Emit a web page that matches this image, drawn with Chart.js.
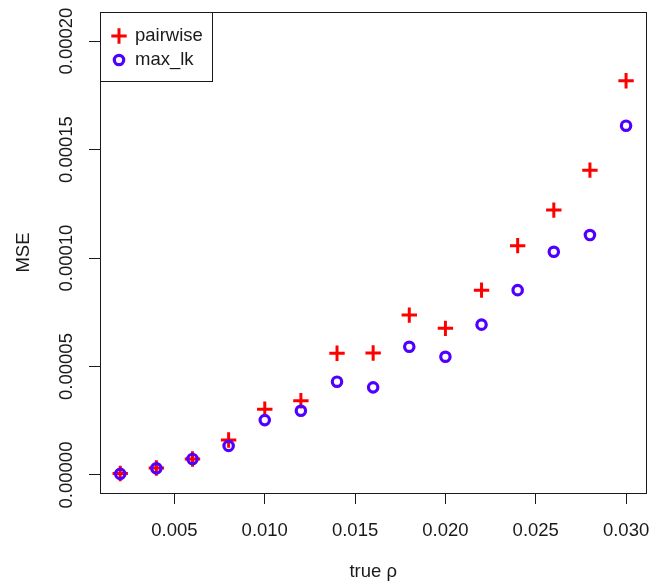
<!DOCTYPE html>
<html>
<head>
<meta charset="utf-8">
<script src="https://cdn.jsdelivr.net/npm/chart.js@4.4.0/dist/chart.umd.min.js"></script>
<style>
  body { margin: 0; background: #fff; }
</style>
</head>
<body>
<canvas id="myChart" width="657" height="586"></canvas>
<script>
// values
const rho = [0.002, 0.004, 0.006, 0.008, 0.010, 0.012, 0.014, 0.016, 0.018, 0.020, 0.022, 0.024, 0.026, 0.028, 0.030];
const pairwise = [0.0000007, 0.0000032, 0.0000074, 0.0000161, 0.0000303, 0.0000342, 0.0000561, 0.0000562,
                  0.0000737, 0.0000676, 0.0000852, 0.0001057, 0.0001221, 0.0001405, 0.0001817];
const maxLk = [0.0000005, 0.0000031, 0.0000074, 0.0000134, 0.0000253, 0.0000296, 0.0000430, 0.0000404,
               0.0000591, 0.0000545, 0.0000693, 0.0000852, 0.0001029, 0.0001106, 0.0001610];
const xTicks = [0.005, 0.010, 0.015, 0.020, 0.025, 0.030];
const yTicks = [0, 0.00005, 0.00010, 0.00015, 0.00020];

const ctx = document.getElementById('myChart');
const FONT = "'Liberation Sans', Arial, sans-serif";
const INK = '#1a1a1a';
const RED = '#ff0000';
const BLUE = '#5000ff';
const font = { family: FONT, size: 18.5 };

// legend symbols as small canvases so cross and circle keep their own sizes
function marker(style, color) {
  const c = document.createElement('canvas');
  c.width = 20;
  c.height = 20;
  const g = c.getContext('2d');
  g.strokeStyle = color;
  g.lineWidth = 3;
  g.beginPath();
  if (style === 'cross') {
    g.moveTo(2.3, 10); g.lineTo(17.7, 10);
    g.moveTo(10, 2.3); g.lineTo(10, 17.7);
  } else {
    g.lineWidth = 3.2;
    g.arc(10, 10, 4.7, 0, Math.PI * 2);
  }
  g.stroke();
  return c;
}
const legendMarks = [marker('cross', RED), marker('circle', BLUE)];

const frame = {
  id: 'frame',
  afterLayout(chart) {
    chart.legend.left = chart.chartArea.left + 6.75;
    chart.legend.top = chart.chartArea.top + 9.25;
  },
  afterDraw(chart) {
    const { ctx, chartArea: a, legend } = chart;
    ctx.save();
    ctx.strokeStyle = INK;
    ctx.lineWidth = 1;
    const l = Math.round(a.left) + 0.5, t = Math.round(a.top) + 0.5;
    ctx.strokeRect(l, t, Math.round(a.right) - Math.round(a.left), Math.round(a.bottom) - Math.round(a.top));
    // legend frame
    ctx.font = `${font.size}px ${FONT}`;
    const widest = Math.max(...legend.legendItems.map(it => ctx.measureText(it.text).width));
    const p = 5.5, b = 13.5;
    const right = Math.round(legend.left + p + b + font.size / 2 + widest + 9) + 0.5;
    const bottom = Math.round(legend.top + p + 2 * font.size + p + 12) + 0.5;
    ctx.strokeRect(l, t, right - l, bottom - t);
    ctx.restore();
  }
};

new Chart(ctx, {
  type: 'scatter',
  data: {
    datasets: [{
      label: 'pairwise',
      data: rho.map((x, i) => ({ x: x, y: pairwise[i] })),
      pointStyle: 'cross',
      pointRadius: 7.7,
      pointHoverRadius: 7.7,
      borderWidth: 3,
      pointBorderWidth: 3,
      borderColor: RED,
      backgroundColor: RED,
      order: 2
    }, {
      label: 'max_lk',
      data: rho.map((x, i) => ({ x: x, y: maxLk[i] })),
      pointStyle: 'circle',
      pointRadius: 4.7,
      pointHoverRadius: 4.7,
      borderWidth: 3.2,
      pointBorderWidth: 3.2,
      borderColor: BLUE,
      backgroundColor: 'rgba(0,0,0,0)',
      order: 1
    }]
  },
  options: {
    responsive: false,
    animation: false,
    layout: { padding: { left: 0, top: 12, right: 6, bottom: 0 } },
    plugins: {
      tooltip: { enabled: false },
      legend: {
        position: 'chartArea',
        align: 'start',
        labels: {
          usePointStyle: true,
          boxWidth: 13.5,
          boxHeight: 13.5,
          padding: 5.5,
          font: font,
          color: INK,
          sort: (a, b) => a.datasetIndex - b.datasetIndex,
          generateLabels: chart => Chart.defaults.plugins.legend.labels.generateLabels(chart)
            .map(item => Object.assign(item, { pointStyle: legendMarks[item.datasetIndex] }))
        }
      }
    },
    scales: {
      x: {
        type: 'linear',
        min: 0.00088,
        max: 0.03112,
        afterBuildTicks: s => { s.ticks = xTicks.map(v => ({ value: v })); },
        afterFit: s => { s.height = 93; s.paddingLeft = 0; s.paddingRight = 0; },
        ticks: { callback: v => v.toFixed(3), font: font, color: INK, padding: 16, maxRotation: 0, autoSkip: false },
        grid: { drawOnChartArea: false, drawTicks: true, tickLength: 11, color: INK },
        border: { color: INK },
        title: { display: true, text: 'true ρ', font: font, color: INK, padding: { top: 0, bottom: 3 } }
      },
      y: {
        type: 'linear',
        min: -0.0000083,
        max: 0.0002134,
        afterBuildTicks: s => { s.ticks = yTicks.map(v => ({ value: v })); },
        afterFit: s => { s.width = 100; s.paddingTop = 0; s.paddingBottom = 0; },
        ticks: { callback: v => v.toFixed(5), font: font, color: INK, padding: -11,
                 minRotation: 90, maxRotation: 90, crossAlign: 'center', autoSkip: false },
        grid: { drawOnChartArea: false, drawTicks: true, tickLength: 11, color: INK },
        border: { color: INK },
        title: { display: true, text: 'MSE', font: font, color: INK, padding: { top: 12.5, bottom: 0 } }
      }
    }
  },
  plugins: [frame]
});
</script>
</body>
</html>
